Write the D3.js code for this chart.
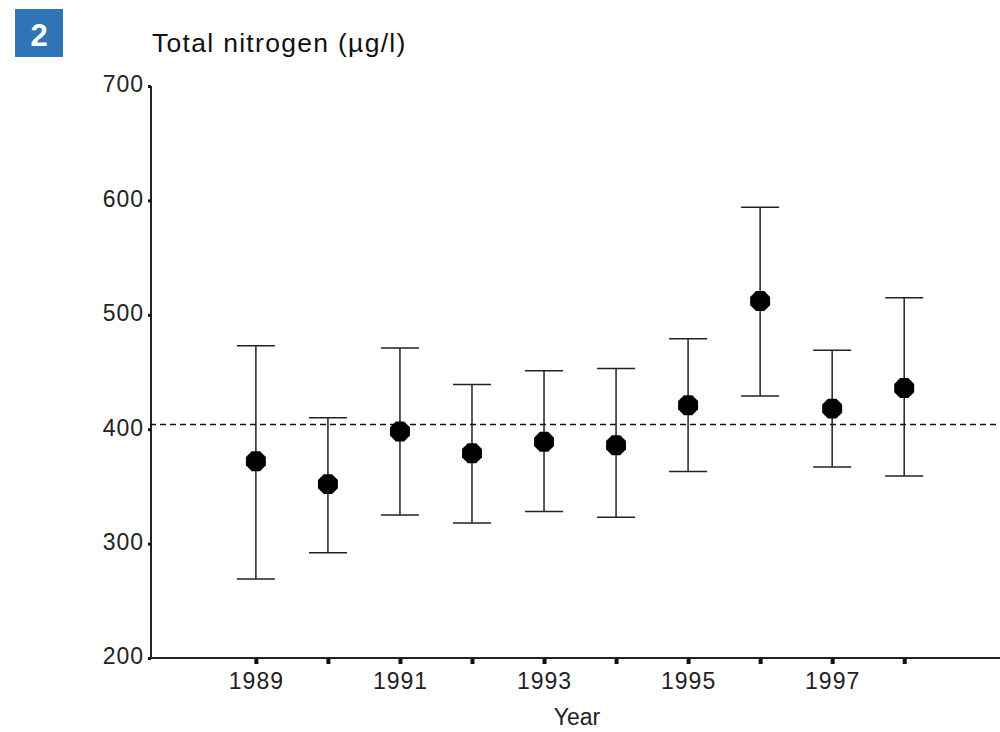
<!DOCTYPE html>
<html>
<head>
<meta charset="utf-8">
<script src="https://d3js.org/d3.v7.min.js"></script>
<style>
  body { margin: 0; background: #fff; }
  svg { display: block; font-family: "Liberation Sans", "DejaVu Sans", sans-serif; }
</style>
</head>
<body>
<script>
// data
var years = [1989, 1990, 1991, 1992, 1993, 1994, 1995, 1996, 1997, 1998];
var means = [372, 352, 398, 379, 389, 386, 421, 512, 418, 436];
var upper = [473, 410, 471, 439, 451, 453, 479, 594, 469, 515];
var lower = [269, 292, 325, 318, 328, 323, 363, 429, 367, 359];
var refLevel = 404;
var yTicks = [200, 300, 400, 500, 600, 700];
var xLabelYears = [1989, 1991, 1993, 1995, 1997];

var width = 1000, height = 732;

var svg = d3.select("body").append("svg")
    .attr("width", width)
    .attr("height", height);

var xScale = d3.scaleLinear()
    .domain([1987.53, 1999.33])
    .range([150, 1000]);

var yScale = d3.scaleLinear()
    .domain([200, 700])
    .range([658, 86]);

// badge
svg.append("rect")
    .attr("x", 15).attr("y", 9)
    .attr("width", 48).attr("height", 48)
    .attr("fill", "#2f75b5");
svg.append("text")
    .attr("x", 39).attr("y", 46)
    .attr("text-anchor", "middle")
    .attr("fill", "#fff")
    .attr("font-weight", "bold")
    .attr("font-size", 31)
    .text("2");

// title
svg.append("text")
    .attr("x", 152).attr("y", 52)
    .attr("font-size", 26.5)
    .attr("letter-spacing", 1.3)
    .attr("fill", "#111")
    .text("Total nitrogen (µg/l)");

// y axis
var yAxis = d3.axisLeft(yScale)
    .tickValues(yTicks)
    .tickSize(3)
    .tickPadding(4);
var gy = svg.append("g")
    .attr("transform", "translate(151,0)")
    .call(yAxis);
gy.select(".domain").attr("stroke", "#222").attr("stroke-width", 2)
    .attr("d", "M0," + yScale(700) + "V" + yScale(200));
gy.selectAll(".tick line").attr("stroke", "#111").attr("stroke-width", 3);
gy.selectAll(".tick text")
    .attr("font-size", 23)
    .attr("letter-spacing", 1)
    .attr("fill", "#222")
    .attr("font-family", "Liberation Sans, sans-serif")
    .attr("dy", "0.26em");

// x axis
var xAxis = d3.axisBottom(xScale)
    .tickValues(years)
    .tickSize(6)
    .tickPadding(9)
    .tickFormat(function(d) { return xLabelYears.indexOf(d) >= 0 ? d : ""; });
var gx = svg.append("g")
    .attr("transform", "translate(0,658)")
    .call(xAxis);
gx.select(".domain").attr("stroke", "#222").attr("stroke-width", 2)
    .attr("d", "M150,0H1000");
gx.selectAll(".tick line").attr("stroke", "#111").attr("stroke-width", 4);
gx.selectAll(".tick text")
    .attr("font-size", 23)
    .attr("letter-spacing", 1)
    .attr("fill", "#222")
    .attr("font-family", "Liberation Sans, sans-serif");

svg.append("text")
    .attr("x", 577).attr("y", 725)
    .attr("text-anchor", "middle")
    .attr("font-size", 23)
    .attr("fill", "#222")
    .text("Year");

// reference line
svg.append("line")
    .attr("x1", 150).attr("x2", 1000)
    .attr("y1", yScale(refLevel)).attr("y2", yScale(refLevel))
    .attr("stroke", "#111")
    .attr("stroke-width", 1.5)
    .attr("stroke-dasharray", "6,4");

// error bars
var rows = years.map(function(y, i) {
    return { year: y, mean: means[i], hi: upper[i], lo: lower[i] };
});

var bars = svg.append("g").selectAll("g")
    .data(rows)
    .enter()
    .append("g");

bars.append("line")
    .attr("x1", function(d) { return xScale(d.year); })
    .attr("x2", function(d) { return xScale(d.year); })
    .attr("y1", function(d) { return yScale(d.hi); })
    .attr("y2", function(d) { return yScale(d.lo); })
    .attr("stroke", "#222").attr("stroke-width", 1.5);

bars.append("line")
    .attr("x1", function(d) { return xScale(d.year) - 19; })
    .attr("x2", function(d) { return xScale(d.year) + 19; })
    .attr("y1", function(d) { return yScale(d.hi); })
    .attr("y2", function(d) { return yScale(d.hi); })
    .attr("stroke", "#222").attr("stroke-width", 1.5);

bars.append("line")
    .attr("x1", function(d) { return xScale(d.year) - 19; })
    .attr("x2", function(d) { return xScale(d.year) + 19; })
    .attr("y1", function(d) { return yScale(d.lo); })
    .attr("y2", function(d) { return yScale(d.lo); })
    .attr("stroke", "#222").attr("stroke-width", 1.5);

// octagon markers
var octagon = function(cx, cy, r) {
    var pts = [];
    for (var k = 0; k < 8; k++) {
        var a = Math.PI / 8 + k * Math.PI / 4;
        pts.push((cx + r * Math.cos(a)) + "," + (cy + r * Math.sin(a)));
    }
    return pts.join(" ");
};

bars.append("polygon")
    .attr("points", function(d) { return octagon(xScale(d.year), yScale(d.mean), 10.8); })
    .attr("fill", "#000");
</script>
</body>
</html>
